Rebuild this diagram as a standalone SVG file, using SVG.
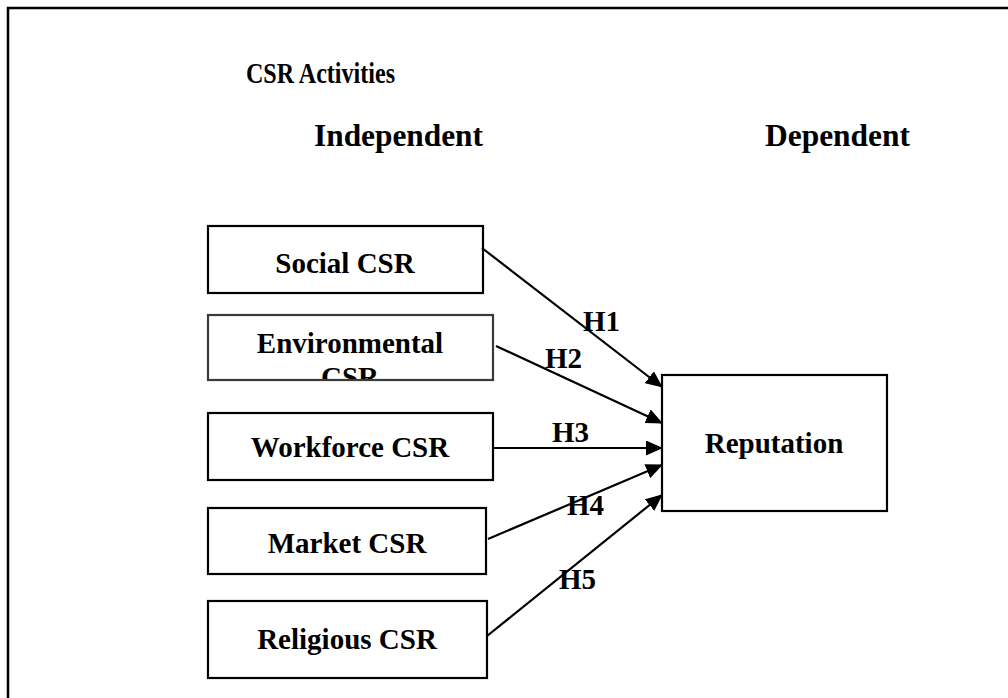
<svg xmlns="http://www.w3.org/2000/svg" width="1008" height="698" viewBox="0 0 1008 698">
<style>
.t{font-family:"Liberation Serif","Times New Roman",serif;font-weight:bold;font-size:29px;fill:#000}
.h{font-size:31px}
.box{fill:#fff;stroke:#000;stroke-width:2.2}
.conn{stroke:#000;stroke-width:2.2;fill:none}
</style>
<defs>
<marker id="ah" markerUnits="userSpaceOnUse" markerWidth="18" markerHeight="15" refX="16" refY="7.5" orient="auto">
<path d="M0,0 L17,7.5 L0,15 Z" fill="#000"/>
</marker>
<clipPath id="envclip"><rect x="209" y="315" width="283" height="64"/></clipPath>
</defs>
<rect width="1008" height="698" fill="#fff"/>
<g id="frame"><path d="M8,698 V8 H1008" fill="none" stroke="#000" stroke-width="2.5"/></g>
<g id="headings">
<text class="t" x="246" y="83" style="font-size:30px" textLength="149" lengthAdjust="spacingAndGlyphs">CSR Activities</text>
<text class="t h" x="314" y="146" textLength="169" lengthAdjust="spacingAndGlyphs">Independent</text>
<text class="t h" x="765" y="146" textLength="145" lengthAdjust="spacingAndGlyphs">Dependent</text>
</g>
<g id="n-social"><rect class="box" x="208" y="226" width="275" height="67"/><text class="t" x="345" y="273" text-anchor="middle">Social CSR</text></g>
<g id="n-env"><rect class="box" x="208" y="315" width="285" height="65" style="stroke:#3a3a3a"/><g clip-path="url(#envclip)"><text class="t" x="350" y="353" text-anchor="middle">Environmental</text><text class="t" x="350" y="387" text-anchor="middle">CSR</text></g></g>
<g id="n-workforce"><rect class="box" x="208" y="413" width="285" height="67"/><text class="t" x="350" y="457" text-anchor="middle">Workforce CSR</text></g>
<g id="n-market"><rect class="box" x="208" y="508" width="278" height="66"/><text class="t" x="347" y="553" text-anchor="middle">Market CSR</text></g>
<g id="n-religious"><rect class="box" x="208" y="601" width="279" height="77"/><text class="t" x="347" y="649" text-anchor="middle">Religious CSR</text></g>
<g id="n-reputation"><rect class="box" x="662" y="375" width="225" height="136"/><text class="t" x="774" y="453" text-anchor="middle">Reputation</text></g>
<g id="connectors">
<line class="conn" x1="482" y1="248" x2="662" y2="387" marker-end="url(#ah)"/>
<line class="conn" x1="496" y1="346" x2="662" y2="423" marker-end="url(#ah)"/>
<line class="conn" x1="493" y1="448" x2="662" y2="448" marker-end="url(#ah)"/>
<line class="conn" x1="488" y1="539" x2="662" y2="465" marker-end="url(#ah)"/>
<line class="conn" x1="487" y1="636" x2="662" y2="495" marker-end="url(#ah)"/>
</g>
<g id="labels">
<text class="t" x="583" y="331">H1</text>
<text class="t" x="545" y="368">H2</text>
<text class="t" x="552" y="442">H3</text>
<text class="t" x="567" y="515">H4</text>
<text class="t" x="559" y="589">H5</text>
</g>
</svg>
